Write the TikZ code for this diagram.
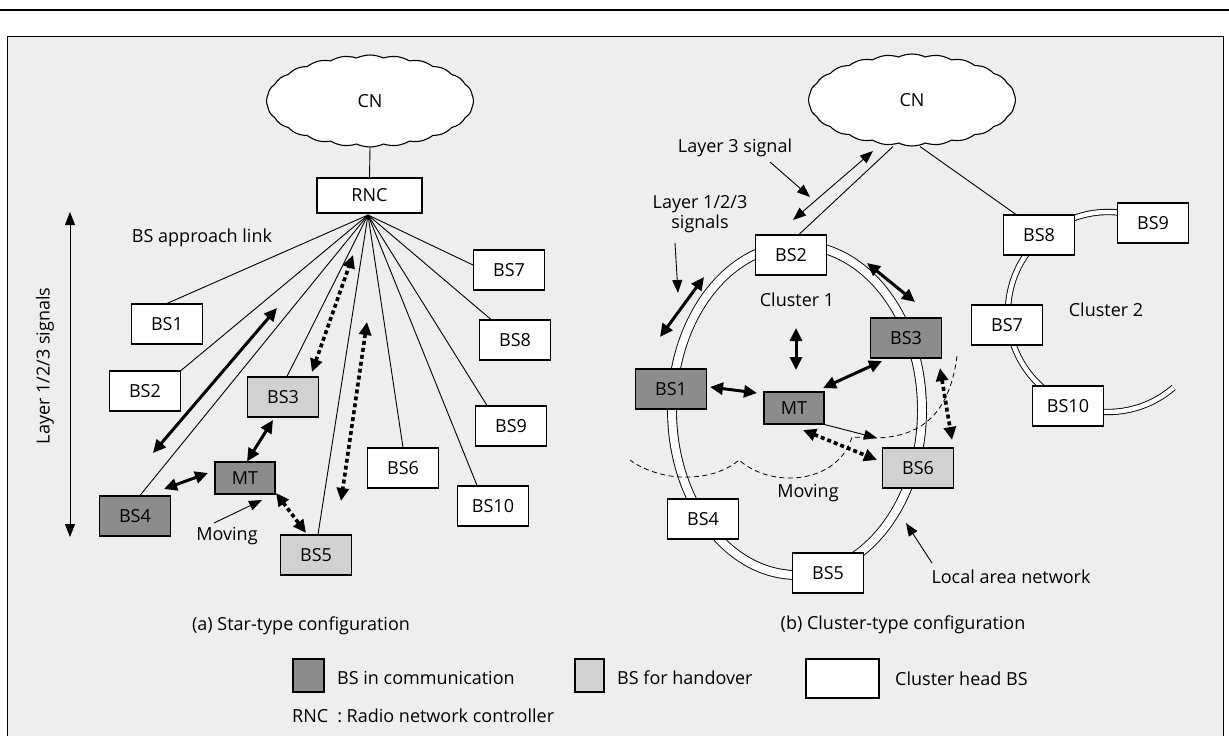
\documentclass[tikz,border=0pt]{standalone}
\usepackage{fontspec}
\setmainfont{Open Sans}
\usetikzlibrary{arrows.meta,shapes.symbols,calc}
\definecolor{commgray}{gray}{0.55}
\definecolor{hogray}{gray}{0.82}
\definecolor{paper}{gray}{0.935}
\begin{document}
\begin{tikzpicture}[x=1pt,y=-1pt,
  font=\fontsize{18}{20.5}\selectfont,
  bs/.style={draw, line width=1.1pt, minimum width=71pt, minimum height=40pt, inner sep=0pt, fill=white},
  bsc/.style={bs, fill=commgray},
  bsh/.style={bs, fill=hogray},
  mtbox/.style={bs, minimum width=60pt, minimum height=32pt, fill=commgray},
  link/.style={line width=0.9pt},
  sig/.style={line width=3pt, {Triangle[length=13pt,width=12pt]}-{Triangle[length=13pt,width=12pt]}},
  dsig/.style={line width=3.6pt, dash pattern=on 4pt off 3pt, {Triangle[length=13pt,width=12pt]}-{Triangle[length=13pt,width=12pt]}},
  thinsig/.style={line width=0.9pt, {Triangle[length=13pt,width=10pt]}-{Triangle[length=13pt,width=10pt]}},
  ptr/.style={line width=0.9pt, -{Triangle[length=13pt,width=10pt]}},
  cn/.style={cloud, cloud puffs=24, cloud puff arc=50, draw, line width=1.1pt, fill=white, minimum width=207pt, minimum height=92pt, aspect=2.25, inner sep=0pt},
  ringa/.style={draw=black, line width=0.9pt, double=white, double distance=8pt},
  ringb/.style={draw=black, line width=0.9pt, double=white, double distance=4.5pt},
  lbl/.style={inner sep=0pt},
  legbox/.style={draw, line width=1.1pt, inner sep=0pt}
]
\useasboundingbox (0,0) rectangle (1229,736);
% page rule and frame
\draw[line width=1.6pt] (0,10) -- (1229,10);
\draw[line width=1pt, fill=paper] (7,36) rectangle (1223,760);

% ================= (a) star-type =================
\node[cn] (lcn) at (370,101) {CN};
\node[bs, minimum width=105pt, minimum height=35pt] (rnc) at (369.5,195.5) {RNC};
\draw[link] (lcn.south) -- (rnc.north);
\coordinate (fan) at (368,215);

\node[bs]  (a1) at (167,324) {BS1};
\node[bs]  (a2) at (145,391) {BS2};
\node[bsh] (a3) at (283,397) {BS3};
\node[bsc] (a4) at (135,516) {BS4};
\node[bsh] (a5) at (316,555) {BS5};
\node[bs]  (a6) at (403,468) {BS6};
\node[bs]  (a7) at (509,270) {BS7};
\node[bs]  (a8) at (515,340) {BS8};
\node[bs]  (a9) at (511,426) {BS9};
\node[bs]  (a10) at (493,506) {BS10};
\node[mtbox] (amt) at (245,478) {MT};

\draw[link] (fan) -- (a1.north);
\draw[link] (fan) -- (a2.north east);
\draw[link] (fan) -- ([xshift=5pt]a4.north);
\draw[link] (fan) -- ([xshift=4pt]a3.north);
\draw[link] (fan) -- ([xshift=2pt]a5.north);
\draw[link] (fan) -- (a6.north);
\draw[link] (fan) -- ([yshift=5pt]a7.west);
\draw[link] (fan) -- ([xshift=12pt]a8.north west);
\draw[link] (fan) -- ([xshift=-24pt]a9.north);
\draw[link] (fan) -- ([xshift=-16pt]a10.north);

\node[lbl] (approach) at (202,238) {BS approach link};

% vertical layer arrow
\coordinate (vt) at (70,212);
\coordinate (vb) at (70,537);
\draw[thinsig] (vt) -- (vb);
\node[lbl, rotate=90] (layerlbl) at (45,366) {Layer 1/2/3 signals};

% signal arrows
\draw[sig] (153,453) -- (277,308);
\draw[dsig] (312,372) -- (353,255);
\draw[dsig] (367,322) -- (341,501);
\draw[sig] ([xshift=2pt]amt.north) -- (273,420);
\draw[sig] (164,489) -- (208,473);
\draw[dsig] (276,493) -- (306,533);

\node[lbl] (movea) at (227,536) {Moving};
\draw[ptr] (214,523) -- (262,500);

\node[lbl] (capa) at (301,626) {(a) Star-type configuration};

% ================= (b) cluster-type =================
\node[cn] (rcn) at (912,100) {CN};

% cluster rings
\draw[ringa] (797,410) ellipse [x radius=125, y radius=165];
\coordinate (c2) at (1108,312);
\draw[ringb] ($(c2)+(-63:100)$) arc[start angle=-63, end angle=-311, radius=100];

\node[bs]  (b2) at (791,255) {BS2};
\node[bsc] (b1) at (671,389) {BS1};
\node[bsc] (b3) at (906,338) {BS3};
\node[bsh] (b6) at (918,468) {BS6};
\node[bs]  (b4) at (703,519) {BS4};
\node[bs]  (b5) at (828,573) {BS5};
\node[bs]  (b8) at (1039,235) {BS8};
\node[bs]  (b9) at (1153,223) {BS9};
\node[bs]  (b7) at (1007,325) {BS7};
\node[bs]  (b10) at (1068,406) {BS10};
\node[mtbox] (bmt) at (794,408) {MT};

\draw[link] ([xshift=-19pt]rcn.south) -- ([xshift=8pt]b2.north);
\draw[link] ([xshift=8pt]rcn.south) -- ([xshift=13pt]b8.north west);

% moving trajectory
\draw[line width=0.8pt, dash pattern=on 5pt off 3.5pt]
  (957,356) .. controls (950,410) and (925,437) .. (875,438)
  -- (852,437)
  .. controls (845,462) and (820,478) .. (790,478)
  .. controls (765,478) and (748,468) .. (739,460)
  .. controls (725,472) and (705,478) .. (680,477)
  .. controls (660,476) and (640,468) .. (630,460);

\draw[thinsig] (793,220) -- (873,151);
\node[lbl] (l3) at (735,148) {Layer 3 signal};
\draw[ptr] (770,162) -- (810,197);
\node[lbl, align=center] (l123) at (700,214) {Layer 1/2/3\\signals};
\draw[ptr] (675,243) -- (678,293);
\draw[sig] (660,337) -- (704,277);
\node[lbl] (cl1) at (797,300) {Cluster 1};
\draw[sig] (796,328) -- (796,370);
\draw[sig] (710,387) -- (757,393);
\draw[sig] (823,388) -- (882,361);
\draw[sig] (867,263) -- (915,302);
\draw[dsig] (803,430) -- (877,460);
\draw[ptr] (bmt.south east) -- (877,438);
\draw[dsig] (940,368) -- (952,440);
\node[lbl] (cl2) at (1106,310) {Cluster 2};
\node[lbl] (moveb) at (808,493) {Moving};
\node[lbl] (lan) at (1011,577) {Local area network};
\draw[ptr] (932,563) -- (906,523);
\node[lbl] (capb) at (903,625) {(b) Cluster-type configuration};

% ================= legend =================
\node[legbox, fill=commgray, minimum width=31pt, minimum height=33pt] (lg1) at (308.5,675.5) {};
\node[lbl, anchor=west] (lg1t) at (337,678) {BS in communication};
\node[legbox, fill=hogray, minimum width=29pt, minimum height=33pt] (lg2) at (589.5,675.5) {};
\node[lbl, anchor=west] (lg2t) at (617,678) {BS for handover};
\node[legbox, fill=white, minimum width=73pt, minimum height=39pt] (lg3) at (842.5,678.5) {};
\node[lbl, anchor=west] (lg3t) at (895,679) {Cluster head BS};
\node[lbl, anchor=west] (rncdef) at (292,716) {RNC\enspace: Radio network controller};
\end{tikzpicture}
\end{document}
